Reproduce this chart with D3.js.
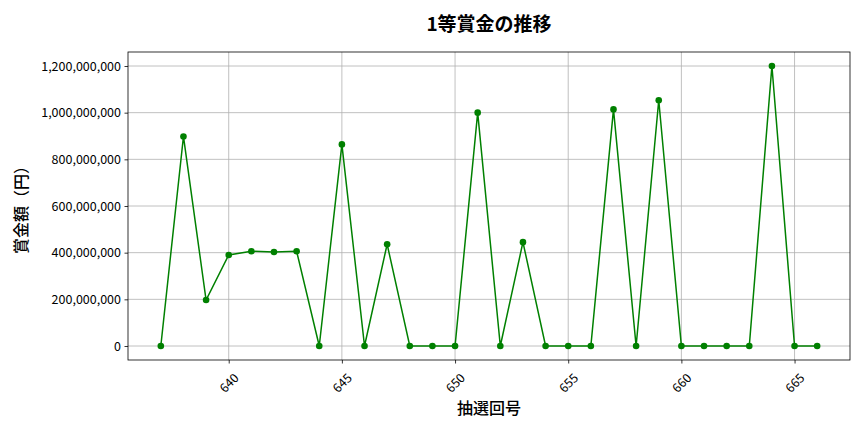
<!DOCTYPE html>
<html><head><meta charset="utf-8">
<script src="https://cdn.jsdelivr.net/npm/d3@7"></script>
<style>
body{margin:0;background:#fff;}
text{font-family:"Noto Sans CJK JP","Noto Sans",sans-serif;}
</style></head>
<body><svg id="c" width="864" height="432"></svg>
<script>
const draws = [637,638,639,640,641,642,643,644,645,646,647,648,649,650,651,652,653,654,655,656,657,658,659,660,661,662,663,664,665,666];
const prizes = [0,898000000,197000000,390000000,406000000,403000000,406000000,0,864000000,0,436000000,0,0,0,1000000000,0,445000000,0,0,0,1014000000,0,1053000000,0,0,0,0,1200000000,0,0];
const xTicks = [640,645,650,655,660,665];
const yTicks = [0,200000000,400000000,600000000,800000000,1000000000,1200000000];
const title = "1等賞金の推移";
const xLabel = "抽選回号";
const yLabel = "賞金額（円）";

const svg = d3.select("#c");
const L=128,R=850,T=52,B=360;
const x = d3.scaleLinear().domain([635.55,667.45]).range([L,R]);
const y = d3.scaleLinear().domain([-60000000,1260000000]).range([B,T]);

// grid
svg.append("g").selectAll("line").data(xTicks).join("line")
 .attr("x1",d=>x(d)).attr("x2",d=>x(d)).attr("y1",T).attr("y2",B)
 .attr("stroke","#b0b0b0").attr("stroke-width",0.8);
svg.append("g").selectAll("line").data(yTicks).join("line")
 .attr("x1",L).attr("x2",R).attr("y1",d=>y(d)).attr("y2",d=>y(d))
 .attr("stroke","#b0b0b0").attr("stroke-width",0.8);

// axes
const fmt = d3.format(",");
const yAxis = svg.append("g").attr("transform",`translate(${L},0)`)
 .call(d3.axisLeft(y).tickValues(yTicks).tickFormat(fmt).tickSize(3.5).tickPadding(3.5));
yAxis.select(".domain").remove();
yAxis.selectAll("text").attr("font-size",12.5).attr("fill","#000");
yAxis.selectAll("line").attr("stroke","#000").attr("stroke-width",0.8);

const xAxis = svg.append("g").attr("transform",`translate(0,${B})`)
 .call(d3.axisBottom(x).tickValues(xTicks).tickFormat(d3.format("d")).tickSize(3.5).tickPadding(3.5));
xAxis.select(".domain").remove();
xAxis.selectAll("line").attr("stroke","#000").attr("stroke-width",0.8);
xAxis.selectAll("text").attr("font-size",12.5).attr("fill","#000")
 .attr("text-anchor","middle").attr("y",0).attr("dy","0.35em")
 .attr("transform","translate(0,23) rotate(-45)");

// frame
svg.append("rect").attr("x",L).attr("y",T).attr("width",R-L).attr("height",B-T)
 .attr("fill","none").attr("stroke","#000").attr("stroke-width",0.8);

// line
const pts = draws.map((d,i)=>[d,prizes[i]]);
svg.append("path").datum(pts)
 .attr("d",d3.line().x(d=>x(d[0])).y(d=>y(d[1])))
 .attr("fill","none").attr("stroke","#008000").attr("stroke-width",1.5);
svg.append("g").selectAll("circle").data(pts).join("circle")
 .attr("cx",d=>x(d[0])).attr("cy",d=>y(d[1])).attr("r",3.3).attr("fill","#008000");

// labels
svg.append("text").attr("x",(L+R)/2).attr("y",31).attr("text-anchor","middle")
 .attr("font-size",19).attr("font-weight","bold").text(title);
svg.append("text").attr("x",(L+R)/2).attr("y",414).attr("text-anchor","middle")
 .attr("font-size",16).attr("font-weight","500").text(xLabel);
svg.append("text").attr("transform",`translate(27,${(T+B)/2}) rotate(-90)`).attr("text-anchor","middle")
 .attr("font-size",16).attr("font-weight","500").text(yLabel);
</script></body></html>
